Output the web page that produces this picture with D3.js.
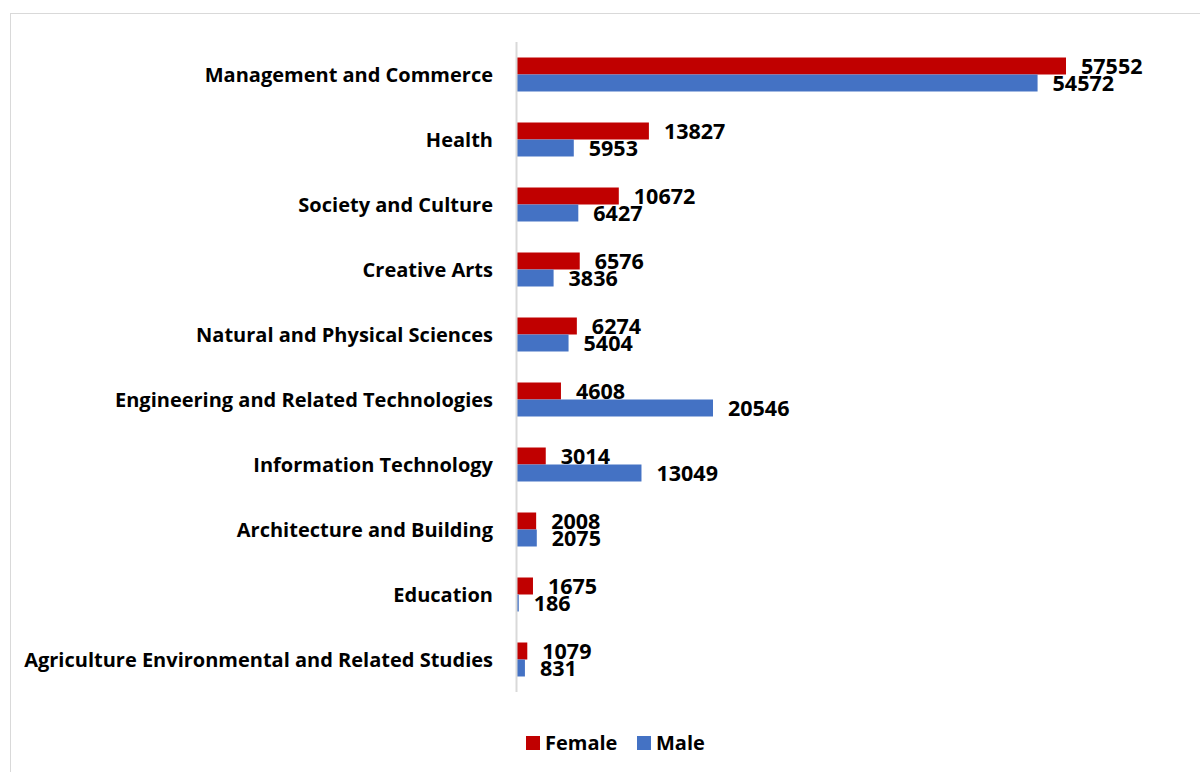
<!DOCTYPE html>
<html><head><meta charset="utf-8">
<script src="https://cdn.jsdelivr.net/npm/d3@7"></script>
<style>body{margin:0;background:#fff;}svg{display:block;}</style>
</head><body>
<svg id="c" width="1200" height="772"></svg>
<script>
const categories = ["Management and Commerce","Health","Society and Culture","Creative Arts","Natural and Physical Sciences","Engineering and Related Technologies","Information Technology","Architecture and Building","Education","Agriculture Environmental and Related Studies"];
const female = [57552,13827,10672,6576,6274,4608,3014,2008,1675,1079];
const male = [54572,5953,6427,3836,5404,20546,13049,2075,186,831];
const seriesNames = ["Female","Male"];
const colors = ["#c00000","#4472c4"];

const svg = d3.select("#c");
const font = "'Open Sans', sans-serif";
svg.append("rect").attr("x",10.5).attr("y",13.5).attr("width",1300).attr("height",900)
  .attr("fill","none").attr("stroke","#d9d9d9");

const x0 = 517;
const x = d3.scaleLinear().domain([0,57552]).range([x0,1066]);
const y = d3.scaleBand().domain(categories).range([42,692]).paddingInner(0.477).paddingOuter(0.2385);
const sub = d3.scaleBand().domain(seriesNames).range([0,y.bandwidth()]);

const g = svg.append("g");
categories.forEach((c,i)=>{
  [female[i],male[i]].forEach((v,j)=>{
    const yy = y(c)+sub(seriesNames[j]);
    g.append("rect").attr("x",x(0)).attr("y",yy).attr("width",x(v)-x(0)).attr("height",sub.bandwidth()).attr("fill",colors[j]);
    g.append("text").attr("x",x(v)+15).attr("y",yy+sub.bandwidth()/2+0.5).attr("dy","0.35em")
      .attr("font-family",font).attr("font-weight","bold").attr("font-size",21.5).attr("fill","#000").text(v);
  });
  g.append("text").attr("x",493).attr("y",y(c)+y.bandwidth()/2).attr("dy","0.35em").attr("text-anchor","end")
    .attr("font-family",font).attr("font-weight","bold").attr("font-size",20).attr("fill","#000").text(c);
});
svg.append("line").attr("x1",x0-0.5).attr("x2",x0-0.5).attr("y1",42).attr("y2",692).attr("stroke","#d9d9d9").attr("stroke-width",2);

const leg = svg.append("g");
const lx = [526,637];
seriesNames.forEach((s,j)=>{
  leg.append("rect").attr("x",lx[j]).attr("y",736).attr("width",14).attr("height",14).attr("fill",colors[j]);
  leg.append("text").attr("x",lx[j]+19).attr("y",743).attr("dy","0.35em").attr("font-family",font).attr("font-weight","bold").attr("font-size",20).text(s);
});
</script>
</body></html>
